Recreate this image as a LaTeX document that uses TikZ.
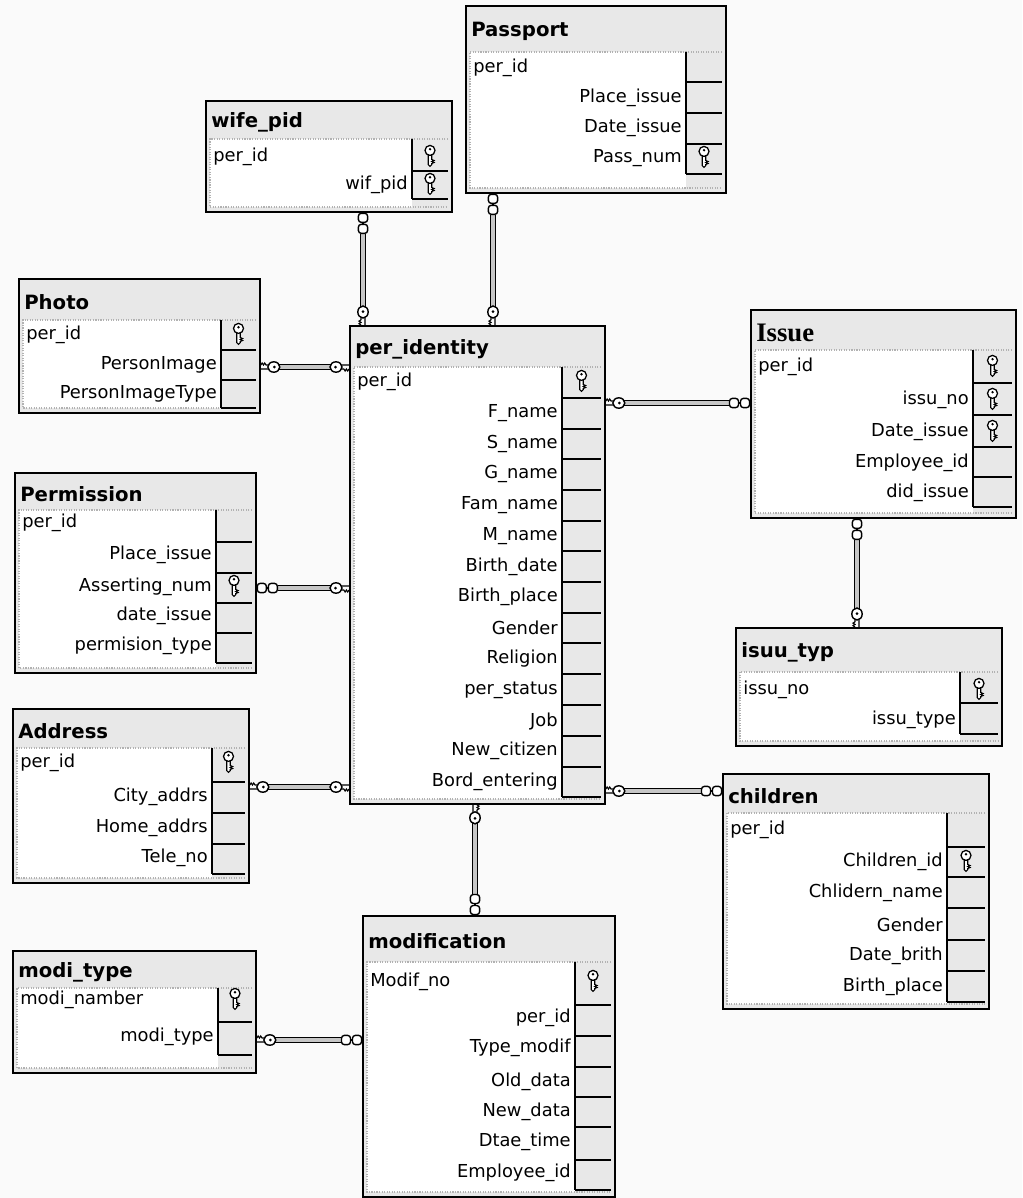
\documentclass[tikz,border=0pt]{standalone}
\usepackage{fontspec}
\setmainfont{DejaVu Sans}
\newfontfamily\issuefont{Liberation Serif}
\usepackage{tikz}
\usetikzlibrary{calc}

\def\px{0.025cm}

\tikzset{
  tblbox/.style={draw, line width=1.3pt, fill=gray!18, inner sep=0pt},
  tbltitle/.style={anchor=west, inner sep=0pt, font=\fontsize{14}{16}\selectfont\bfseries},
  fieldtxt/.style={inner sep=0pt, font=\fontsize{12.7}{14}\selectfont},
  fieldedge/.style={gray!60, densely dotted, line width=0.8pt},
  rowline/.style={line width=1.2pt},
  relbar/.style={draw=black, line width=0.8pt, double=gray!45, double distance=2.4pt},
  fromkey/.style={shorten <=0.46cm},
  tokey/.style={shorten >=0.46cm},
  frommany/.style={shorten <=0.52cm},
  tomany/.style={shorten >=0.52cm},
  pics/pkkey/.style={code={
    \draw[line width=0.8pt, fill=white] (-1.8,-0.5) -- (-1.8,9.5) -- (0,11.3) -- (1.8,9.5) -- (1.8,8.5)
      -- (4,7.5) -- (1.8,6.5) -- (4,5.5) -- (1.8,4.5) -- (1.8,-0.5);
    \draw[line width=0.9pt, fill=white] (0,-4.6) ellipse (5 and 5);
    \fill (0,-5.8) circle (1.3);
  }},
  pics/keyend/.style={code={
    \draw[line width=0.8pt] (0,2) -- (8,2) (0,-2) -- (1.3,-4) -- (2.6,-2) -- (3.9,-4) -- (5.2,-2) -- (8,-2);
    \draw[line width=1pt, fill=white] (13,0) ellipse (6 and 5.2);
    \fill (13.5,0) circle (1.5);
  }},
  pics/manyend/.style={code={
    \draw[line width=1pt, fill=white, rounded corners=2pt] (0.5,-4.6) rectangle (9.5,4.6);
    \draw[line width=1pt] (9.5,0) -- (11.5,0);
    \draw[line width=1pt, fill=white, rounded corners=2pt] (11.5,-4.6) rectangle (20.5,4.6);
  }},
}

% #1 name  #2 left  #3 top  #4 width  #5 height  #6 title  #7 top of fields  #8 key column x  #9 rows (y/bottom/text/key)
\newcommand{\dbtable}[9]{%
  \node[tblbox, minimum width={#4*\px}, minimum height={#5*\px}, anchor=north west] (#1) at (#2,#3) {};
  \node[tbltitle] (#1-title) at ({#2+6},{(#3+#7)/2+3}) {#6};
  \fill[white] ({#2+5},#7) rectangle (#8,{#3+#5-4});
  \draw[fieldedge] ({#2+#4-3},#7) -- ({#2+5},#7) -- ({#2+5},{#3+#5-4}) -- ({#2+#4-3},{#3+#5-4});
  \foreach \fy/\fb/\fname/\fk [count=\ri] in {#9} {
    \ifnum\ri=1\relax
      \node[fieldtxt, anchor=west] (#1-f\ri) at ({#2+8},\fy) {\fname};
    \else
      \node[fieldtxt, anchor=east] (#1-f\ri) at ({#8-4},\fy) {\fname};
    \fi
    \draw[rowline] (#8,\fb) -- ({#2+#4-3},\fb);
    \ifnum\fk=1\relax
      \pic at ({(#8+#2+#4-3)/2},{\fy-2}) {pkkey};
    \fi
    \xdef\lastfb{\fb}
  }
  \draw[rowline] (#8,#7) -- (#8,\lastfb);
}

\begin{document}
\begin{tikzpicture}[x=0.025cm, y=-0.025cm]
  \fill[gray!4] (0,0) rectangle (1022,1198);
  \useasboundingbox (0,0) rectangle (1022,1198);

  % tables
  \dbtable{pass}{465}{5}{260}{187}{Passport}{52}{686}
    {68/82/per\_id/0, 98/113/Place\_issue/0, 128/144/Date\_issue/0, 158/174/Pass\_num/1}
  \dbtable{wife}{205}{100}{246}{111}{wife\_pid}{139}{412}
    {157/171/per\_id/1, 185/199/wif\_pid/1}
  \dbtable{photo}{18}{278}{241}{134}{Photo}{320}{221}
    {335/350/per\_id/1, 365/380/PersonImage/0, 394/408/PersonImageType/0}
  \dbtable{perm}{14}{472}{241}{200}{Permission}{510}{216}
    {523/542/per\_id/0, 555/573/Place\_issue/0, 587/603/Asserting\_num/1, 616/633/date\_issue/0, 646/663/permision\_type/0}
  \dbtable{addr}{12}{708}{236}{174}{Address}{748}{212}
    {763/782/per\_id/1, 797/813/City\_addrs/0, 828/844/Home\_addrs/0, 858/874/Tele\_no/0}
  \dbtable{mtype}{12}{950}{243}{122}{modi\_type}{988}{218}
    {1000/1022/modi\_namber/1, 1037/1055/modi\_type/0}
  \dbtable{pid}{349}{325}{255}{478}{per\_identity}{367}{562}
    {382/398/per\_id/1, 413/429/F\_name/0, 444/459/S\_name/0, 474/490/G\_name/0, 505/521/Fam\_name/0,
     536/551/M\_name/0, 567/582/Birth\_date/0, 597/613/Birth\_place/0, 628/643/Gender/0, 659/674/Religion/0,
     690/705/per\_status/0, 721/736/Job/0, 751/767/New\_citizen/0, 782/797/Bord\_entering/0}
  \dbtable{modif}{362}{915}{252}{281}{modification}{962}{575}
    {982/1005/Modif\_no/1, 1018/1036/per\_id/0, 1048/1067/Type\_modif/0, 1082/1097/Old\_data/0,
     1112/1127/New\_data/0, 1142/1160/Dtae\_time/0, 1173/1190/Employee\_id/0}
  \dbtable{issue}{750}{309}{265}{208}{\issuefont\fontsize{19}{20}\selectfont Issue}{350}{973}
    {367/383/per\_id/1, 400/415/issu\_no/1, 432/447/Date\_issue/1, 463/477/Employee\_id/0, 493/507/did\_issue/0}
  \dbtable{ityp}{735}{627}{266}{118}{isuu\_typ}{672}{960}
    {690/703/issu\_no/1, 720/734/issu\_type/0}
  \dbtable{child}{722}{773}{266}{235}{children}{813}{947}
    {830/847/per\_id/0, 862/877/Children\_id/1, 893/908/Chlidern\_name/0, 925/940/Gender/0,
     956/971/Date\_brith/0, 987/1002/Birth\_place/0}

  % relationships
  \draw[relbar, frommany, tokey] (wife.south -| 363,0) -- (pid.north -| 363,0);
  \pic[rotate=-90] at (wife.south -| 363,0) {manyend};
  \pic[rotate=90] at (pid.north -| 363,0) {keyend};

  \draw[relbar, frommany, tokey] (pass.south -| 493,0) -- (pid.north -| 493,0);
  \pic[rotate=-90] at (pass.south -| 493,0) {manyend};
  \pic[rotate=90] at (pid.north -| 493,0) {keyend};

  \draw[relbar, fromkey, tokey] (photo.east |- 0,367) -- (pid.west |- 0,367);
  \pic at (photo.east |- 0,367) {keyend};
  \pic[rotate=180] at (pid.west |- 0,367) {keyend};

  \draw[relbar, frommany, tokey] (perm.east |- 0,588) -- (pid.west |- 0,588);
  \pic at (perm.east |- 0,588) {manyend};
  \pic[rotate=180] at (pid.west |- 0,588) {keyend};

  \draw[relbar, fromkey, tokey] (addr.east |- 0,787) -- (pid.west |- 0,787);
  \pic at (addr.east |- 0,787) {keyend};
  \pic[rotate=180] at (pid.west |- 0,787) {keyend};

  \draw[relbar, fromkey, tomany] (pid.east |- 0,403) -- (issue.west |- 0,403);
  \pic at (pid.east |- 0,403) {keyend};
  \pic[rotate=180] at (issue.west |- 0,403) {manyend};

  \draw[relbar, frommany, tokey] (issue.south -| 857,0) -- (ityp.north -| 857,0);
  \pic[rotate=-90] at (issue.south -| 857,0) {manyend};
  \pic[rotate=90] at (ityp.north -| 857,0) {keyend};

  \draw[relbar, fromkey, tomany] (pid.east |- 0,791) -- (child.west |- 0,791);
  \pic at (pid.east |- 0,791) {keyend};
  \pic[rotate=180] at (child.west |- 0,791) {manyend};

  \draw[relbar, fromkey, tomany] (pid.south -| 475,0) -- (modif.north -| 475,0);
  \pic[rotate=-90] at (pid.south -| 475,0) {keyend};
  \pic[rotate=90] at (modif.north -| 475,0) {manyend};

  \draw[relbar, fromkey, tomany] (mtype.east |- 0,1040) -- (modif.west |- 0,1040);
  \pic at (mtype.east |- 0,1040) {keyend};
  \pic[rotate=180] at (modif.west |- 0,1040) {manyend};
\end{tikzpicture}
\end{document}
